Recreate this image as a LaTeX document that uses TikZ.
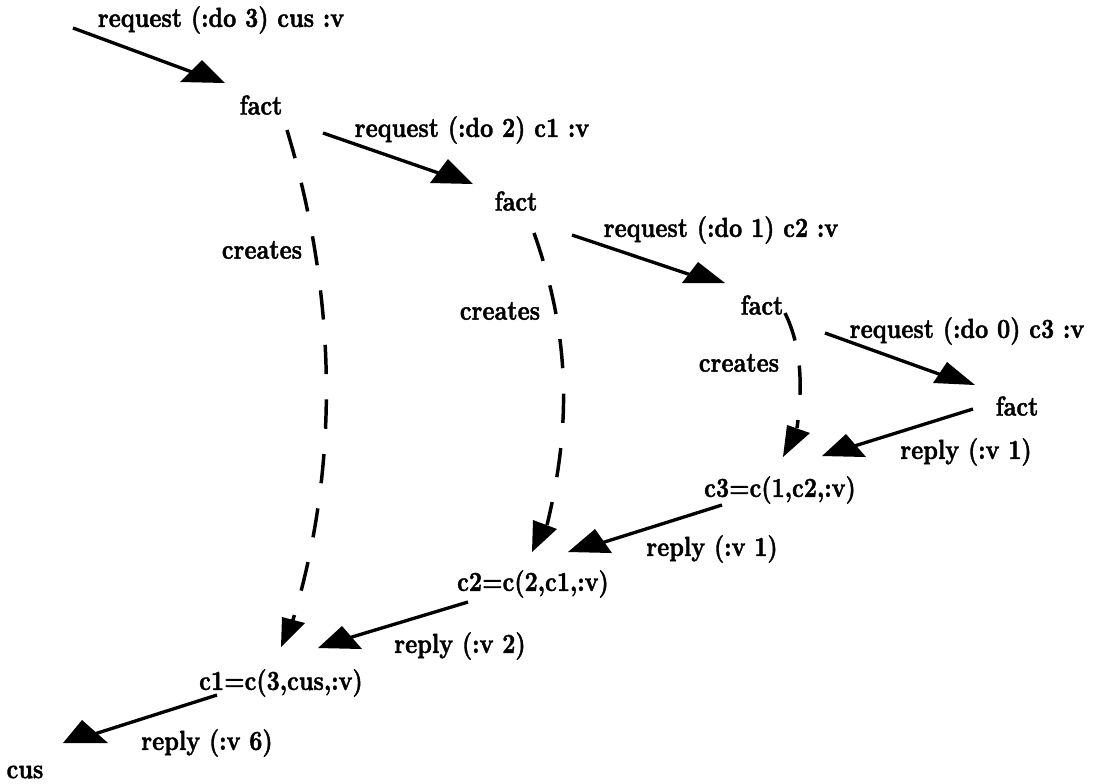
\documentclass[tikz,border=0pt]{standalone}
\usepackage{fontspec}
\newfontface\lblfont{lmroman10-bold.otf}[FakeBold=1.6]
\newcommand\lbltext[1]{\scalebox{1}[1.2]{#1}}
\begin{document}
\begin{tikzpicture}[x=0.75pt,y=-0.75pt,
  lbl/.style={inner sep=0pt,font=\lblfont\fontsize{17.2}{20}\selectfont},
  conn/.style={line width=2.5pt},
  crt/.style={line width=2.6pt,dash pattern=on 22pt off 19pt},
  head/.style={fill=black}]
\useasboundingbox (0,0) rectangle (1098,783);
% text nodes
\node[lbl] (req3) at (221,20) {\lbltext{request (:do 3) cus :v}};
\node[lbl] (fact1) at (261,105) {\lbltext{fact}};
\node[lbl] (req2) at (472,130) {\lbltext{request (:do 2) c1 :v}};
\node[lbl] (fact2) at (516,201) {\lbltext{fact}};
\node[lbl] (req1) at (721,230) {\lbltext{request (:do 1) c2 :v}};
\node[lbl] (fact3) at (762,305) {\lbltext{fact}};
\node[lbl] (req0) at (967,331) {\lbltext{request (:do 0) c3 :v}};
\node[lbl] (fact4) at (1017,406) {\lbltext{fact}};
\node[lbl] (cr1) at (262,250) {\lbltext{creates}};
\node[lbl] (cr2) at (500,311) {\lbltext{creates}};
\node[lbl] (cr3) at (739,363) {\lbltext{creates}};
\node[lbl] (rep1a) at (966,452) {\lbltext{reply (:v 1)}};
\node[lbl] (c3) at (780,490) {\lbltext{c3=c(1,c2,:v)}};
\node[lbl] (rep1b) at (712,549) {\lbltext{reply (:v 1)}};
\node[lbl] (c2) at (533,584) {\lbltext{c2=c(2,c1,:v)}};
\node[lbl] (rep2) at (460,646) {\lbltext{reply (:v 2)}};
\node[lbl] (c1) at (281,683) {\lbltext{c1=c(3,cus,:v)}};
\node[lbl] (rep6) at (207,743) {\lbltext{reply (:v 6)}};
\node[lbl] (cus) at (25,772) {\lbltext{cus}};
% connector end points
\coordinate (src) at (73,28);
\coordinate (f1o) at (323,133);
\coordinate (f2o) at (572,235);
\coordinate (f3o) at (825,333);
\coordinate (f4o) at (973,409);
\coordinate (c3o) at (722,505);
\coordinate (c2o) at (468,602);
\coordinate (c1o) at (217,695);
\coordinate (t1) at (200,75);
\coordinate (t2) at (450,177);
\coordinate (t3) at (700,278);
\coordinate (t4) at (950,378);
\coordinate (t5) at (848,448);
\coordinate (t7) at (595,545);
\coordinate (t9) at (342,640);
\coordinate (t11) at (85,737);
\coordinate (f1d) at (287,130);
\coordinate (f2d) at (534,233);
\coordinate (f3d) at (785,313);
\coordinate (t10) at (292,623);
\coordinate (t8) at (547,525);
\coordinate (t6) at (797,428);
% request arrows
\draw[conn] (src) -- (t1);
\draw[conn] (f1o) -- (t2);
\draw[conn] (f2o) -- (t3);
\draw[conn] (f3o) -- (t4);
% reply arrows
\draw[conn] (f4o) -- (t5);
\draw[conn] (c3o) -- (t7);
\draw[conn] (c2o) -- (t9);
\draw[conn] (c1o) -- (t11);
% creates (dashed)
\draw[crt] (f1d) .. controls (335,290) and (342,460) .. (t10);
\draw[crt] (f2d) .. controls (572,340) and (570,430) .. (t8);
\draw[crt] (f3d) .. controls (803,350) and (802,390) .. (t6);
% arrowheads
\fill[head] (180,82) -- (202,60) -- (225,83) -- cycle;
\fill[head] (430,183) -- (448,159) -- (473,184) -- cycle;
\fill[head] (682,283) -- (698,262) -- (725,283) -- cycle;
\fill[head] (933,383) -- (947,362) -- (975,385) -- cycle;
\fill[head] (822,456) -- (846,434) -- (866,457) -- cycle;
\fill[head] (787,425) -- (810,433) -- (783,457) -- cycle;
\fill[head] (568,552) -- (595,529) -- (612,553) -- cycle;
\fill[head] (533,520) -- (557,529) -- (532,552) -- cycle;
\fill[head] (318,648) -- (342,626) -- (362,649) -- cycle;
\fill[head] (282,617) -- (305,623) -- (281,647) -- cycle;
\fill[head] (63,743) -- (82,720) -- (108,743) -- cycle;
\end{tikzpicture}
\end{document}
